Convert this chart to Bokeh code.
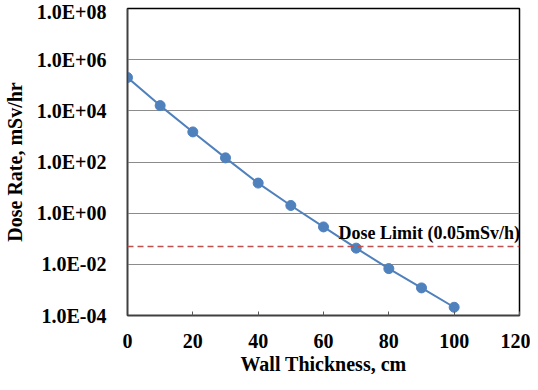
from bokeh.plotting import figure
from bokeh.models import FixedTicker, Span, Label, Range1d, Title
from bokeh.embed import file_html
from bokeh.resources import INLINE

# Data
thickness_cm = [0, 10, 20, 30, 40, 50, 60, 70, 80, 90, 100]
dose_rate = [2.0e5, 1.6e4, 1.5e3, 1.45e2, 15.0, 2.0, 0.29, 0.043, 0.0068, 0.0012, 0.00021]
dose_limit = 0.05
dose_limit_text = "Dose Limit (0.05mSv/h)"
y_ticks = [1e-4, 1e-2, 1e0, 1e2, 1e4, 1e6, 1e8]
y_tick_labels = ["1.0E-04", "1.0E-02", "1.0E+00", "1.0E+02", "1.0E+04", "1.0E+06", "1.0E+08"]
x_ticks = [0, 20, 40, 60, 80, 100, 120]
x_title = "Wall Thickness, cm"
y_title = "Dose Rate, mSv/hr"

FONT = "Liberation Serif"
BLUE = "#4F81BD"

p = figure(width=530, height=374, y_axis_type="log", output_backend="svg",
           toolbar_location=None, x_range=Range1d(0, 120), y_range=Range1d(1e-4, 1e8),
           min_border_left=118, min_border_right=11, min_border_top=8, min_border_bottom=0)

p.outline_line_color = "black"
p.outline_line_width = 1.5
p.background_fill_color = "white"
p.border_fill_color = "white"

p.xgrid.visible = False
p.ygrid.ticker = FixedTicker(ticks=y_ticks)
p.ygrid.grid_line_color = "#8c8c8c"
p.ygrid.grid_line_width = 1

p.yaxis.ticker = FixedTicker(ticks=y_ticks)
p.yaxis.major_label_overrides = {t: l for t, l in zip(y_ticks, y_tick_labels)}
p.yaxis.minor_tick_line_color = None
p.yaxis.major_tick_line_color = None
p.yaxis.major_label_standoff = 15
p.yaxis.axis_label = y_title
p.yaxis.axis_label_standoff = 8

p.xaxis.ticker = FixedTicker(ticks=x_ticks)
p.xaxis.minor_tick_line_color = None
p.xaxis.major_tick_in = 4
p.xaxis.major_tick_out = 0
p.xaxis.major_tick_line_color = "#595959"
p.xaxis.major_label_standoff = 18

for ax in (p.xaxis, p.yaxis):
    ax.axis_line_color = "#404040"
    ax.axis_line_width = 1.5
    ax.major_label_text_font = FONT
    ax.major_label_text_font_style = "bold"
    ax.major_label_text_font_size = "20px"
    ax.major_label_text_color = "black"
    ax.axis_label_text_font = FONT
    ax.axis_label_text_font_style = "bold"
    ax.axis_label_text_font_size = "20px"
    ax.axis_label_text_color = "black"

p.add_layout(Title(text=x_title, align="center", vertical_align="bottom", text_font=FONT,
                   text_font_style="bold", text_font_size="20px", text_color="black",
                   text_line_height=0.6, standoff=0, offset=0),
             "below")

p.add_layout(Span(location=dose_limit, dimension="width", line_color="#C0504D",
                  line_dash="6 4", line_width=1.5))

p.line(thickness_cm, dose_rate, line_color=BLUE, line_width=2)
p.scatter(thickness_cm, dose_rate, size=10, fill_color=BLUE, line_color=BLUE)

p.add_layout(Label(x=64.6, y=0.17, text=dose_limit_text, text_font=FONT,
                   text_font_style="bold", text_font_size="18px", text_color="black",
                   text_baseline="middle", text_align="left"))

open("out.html", "w").write(file_html(p, INLINE))
